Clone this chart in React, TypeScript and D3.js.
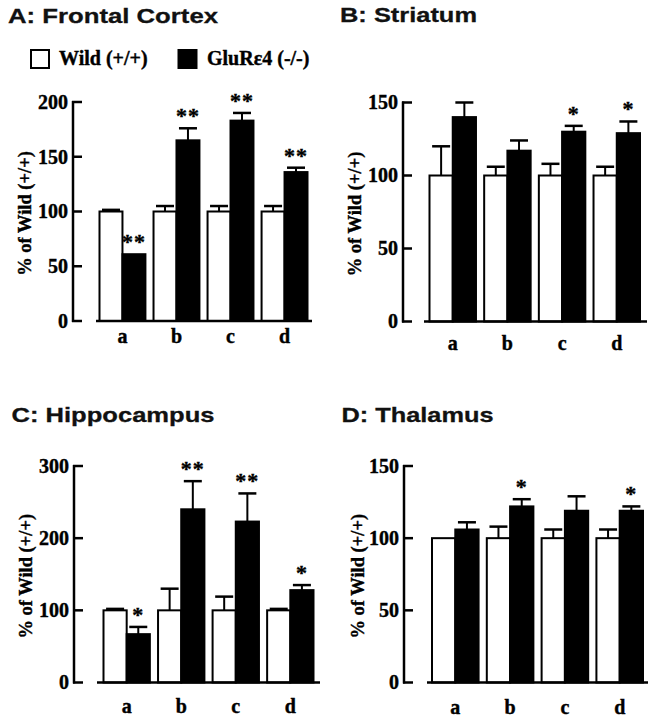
import React from "react";
import * as d3 from "d3";

// ---------- data ----------
const categories = ["a", "b", "c", "d"];
const seriesNames = ["Wild (+/+)", "GluRε4 (-/-)"];

const frontalWild = [100, 100, 100, 100];
const frontalWildErr = [1.5, 5, 5, 5];
const frontalKO = [61, 165, 183, 136];
const frontalKOErr = [0, 11, 7, 4];
const frontalSig = ["**", "**", "**", "**"];

const striatumWild = [100, 100, 100, 100];
const striatumWildErr = [20, 6, 8, 6];
const striatumKO = [140, 117, 130, 129];
const striatumKOErr = [10, 7, 4, 8];
const striatumSig = ["", "", "*", "*"];

const hippoWild = [100, 100, 100, 100];
const hippoWildErr = [2, 30, 19, 2];
const hippoKO = [67, 240, 223, 128];
const hippoKOErr = [10, 39, 39, 7];
const hippoSig = ["*", "**", "**", "*"];

const thalamusWild = [100, 100, 100, 100];
const thalamusWildErr = [0, 8, 6, 6];
const thalamusKO = [106, 122, 119, 119];
const thalamusKOErr = [5, 5, 10, 3];
const thalamusSig = ["", "*", "", "*"];

const frontalTicks = [0, 50, 100, 150, 200];
const striatumTicks = [0, 50, 100, 150];
const hippoTicks = [0, 100, 200, 300];
const thalamusTicks = [0, 50, 100, 150];

const yLabel = "% of Wild (+/+)";

// ---------- layout ----------
const SERIF = "'Liberation Serif', 'Times New Roman', serif";
const SANS = "'Liberation Sans', Arial, sans-serif";
const INK = { fill: "#000", stroke: "#000", strokeWidth: 0.4 };

type Panel = {
  title: string;
  titleX: number;
  titleY: number;
  titleLen: number;
  wild: number[];
  wildErr: number[];
  ko: number[];
  koErr: number[];
  sig: string[];
  ticks: number[];
  axisX: number;
  y0: number;
  yTop: number;
  gx0: number;
  gx1: number;
  bx0: number;
  bx1: number;
  labelY: number;
  yLabelX: number;
};

const panels: Panel[] = [
  {
    title: "A: Frontal Cortex", titleX: 8, titleY: 23, titleLen: 210,
    wild: frontalWild, wildErr: frontalWildErr, ko: frontalKO, koErr: frontalKOErr, sig: frontalSig,
    ticks: frontalTicks, axisX: 73, y0: 321, yTop: 102, gx0: 99.5, gx1: 307.5, bx0: 96, bx1: 312,
    labelY: 343, yLabelX: 27,
  },
  {
    title: "B: Striatum", titleX: 340, titleY: 22, titleLen: 137,
    wild: striatumWild, wildErr: striatumWildErr, ko: striatumKO, koErr: striatumKOErr, sig: striatumSig,
    ticks: striatumTicks, axisX: 403, y0: 321.5, yTop: 102.5, gx0: 429.5, gx1: 640, bx0: 424, bx1: 647,
    labelY: 350, yLabelX: 357,
  },
  {
    title: "C: Hippocampus", titleX: 11.5, titleY: 422, titleLen: 203,
    wild: hippoWild, wildErr: hippoWildErr, ko: hippoKO, koErr: hippoKOErr, sig: hippoSig,
    ticks: hippoTicks, axisX: 74, y0: 682.5, yTop: 466, gx0: 103.5, gx1: 313.5, bx0: 97, bx1: 320,
    labelY: 713, yLabelX: 28,
  },
  {
    title: "D: Thalamus", titleX: 341.5, titleY: 422, titleLen: 152,
    wild: thalamusWild, wildErr: thalamusWildErr, ko: thalamusKO, koErr: thalamusKOErr, sig: thalamusSig,
    ticks: thalamusTicks, axisX: 404, y0: 682.5, yTop: 466, gx0: 432, gx1: 643, bx0: 427, bx1: 648,
    labelY: 714, yLabelX: 360,
  },
];

function PanelView({ p }: { p: Panel }) {
  const maxV = p.ticks[p.ticks.length - 1];
  const y = d3.scaleLinear().domain([0, maxV]).range([p.y0, p.yTop]);
  const xg = d3.scaleBand<string>().domain(categories).range([p.gx0, p.gx1]).paddingInner(0.15).paddingOuter(0);
  const xs = d3.scaleBand<string>().domain(["wild", "ko"]).range([0, xg.bandwidth()]);
  const bw = xs.bandwidth();
  const capHalf = 9;

  const series = [
    { key: "wild", vals: p.wild, errs: p.wildErr, fill: "#fff" },
    { key: "ko", vals: p.ko, errs: p.koErr, fill: "#000" },
  ];

  return (
    <g>
      <text
        x={p.titleX}
        y={p.titleY}
        fontFamily={SANS}
        fontWeight="bold"
        fontSize={21}
        textLength={p.titleLen}
        lengthAdjust="spacingAndGlyphs"
        fill="#111"
        stroke="#111"
        strokeWidth={0.3}
      >
        {p.title}
      </text>

      {/* y axis */}
      <line x1={p.axisX} x2={p.axisX} y1={y(0) + 1} y2={y(maxV) - 1} stroke="#000" strokeWidth={2.5} />
      {p.ticks.map((t) => (
        <g key={t}>
          <line x1={p.axisX - 1} x2={p.axisX + 9} y1={y(t)} y2={y(t)} stroke="#000" strokeWidth={2.5} />
          <text
            x={p.axisX - 5}
            y={y(t)}
            dy="0.34em"
            textAnchor="end"
            fontFamily={SERIF}
            fontWeight="bold"
            fontSize={20}
            {...INK}
          >
            {t}
          </text>
        </g>
      ))}
      <text
        transform={`translate(${p.yLabelX + 4},${(p.y0 + p.yTop) / 2 + 2}) rotate(-90)`}
        textAnchor="middle"
        fontFamily={SERIF}
        fontWeight="bold"
        fontSize={18.5}
        {...INK}
      >
        {yLabel}
      </text>

      {/* bars */}
      {categories.map((c, i) => {
        const gx = xg(c)!;
        return (
          <g key={c}>
            {series.map((s) => {
              const x = gx + xs(s.key)!;
              const v = s.vals[i];
              const e = s.errs[i];
              const cx = x + bw / 2;
              return (
                <g key={s.key}>
                  {e > 0 && (
                    <g stroke="#000">
                      <line x1={cx} x2={cx} y1={y(v)} y2={y(v + e)} strokeWidth={2} />
                      <line x1={cx - capHalf} x2={cx + capHalf} y1={y(v + e)} y2={y(v + e)} strokeWidth={2.5} />
                    </g>
                  )}
                  <rect
                    x={x}
                    y={y(v)}
                    width={bw}
                    height={y(0) - y(v)}
                    fill={s.fill}
                    stroke="#000"
                    strokeWidth={2}
                  />
                </g>
              );
            })}
            {p.sig[i] && (
              <text
                x={gx + xs("ko")! + bw / 2}
                y={y(p.ko[i] + p.koErr[i]) - 5}
                textAnchor="middle"
                fontFamily={SERIF}
                fontWeight="bold"
                fontSize={22}
                letterSpacing={1}
                {...INK}
              >
                {p.sig[i]}
              </text>
            )}
            <text
              x={gx + xg.bandwidth() / 2}
              y={p.labelY}
              textAnchor="middle"
              fontFamily={SERIF}
              fontWeight="bold"
              fontSize={20}
              {...INK}
            >
              {c}
            </text>
          </g>
        );
      })}

      {/* baseline */}
      <line x1={p.bx0} x2={p.bx1} y1={y(0)} y2={y(0)} stroke="#000" strokeWidth={2.5} />
    </g>
  );
}

export default function App() {
  return (
    <svg
      width={653}
      height={720}
      viewBox="0 0 653 720"
      style={{ position: "absolute", left: 0, top: 0, background: "#fff" }}
    >
      <rect x={0} y={0} width={653} height={720} fill="#fff" />
      {/* legend */}
      <g>
        <rect x={31} y={50} width={18} height={18} fill="#fff" stroke="#000" strokeWidth={2} />
        <text x={59} y={64.5} fontFamily={SERIF} fontWeight="bold" fontSize={20} {...INK}>
          {seriesNames[0]}
        </text>
        <rect x={178} y={49.5} width={19} height={19} fill="#000" stroke="#000" strokeWidth={1} />
        <text x={207} y={64.5} fontFamily={SERIF} fontWeight="bold" fontSize={20} {...INK}>
          {seriesNames[1]}
        </text>
      </g>
      {panels.map((p) => (
        <PanelView key={p.title} p={p} />
      ))}
    </svg>
  );
}
